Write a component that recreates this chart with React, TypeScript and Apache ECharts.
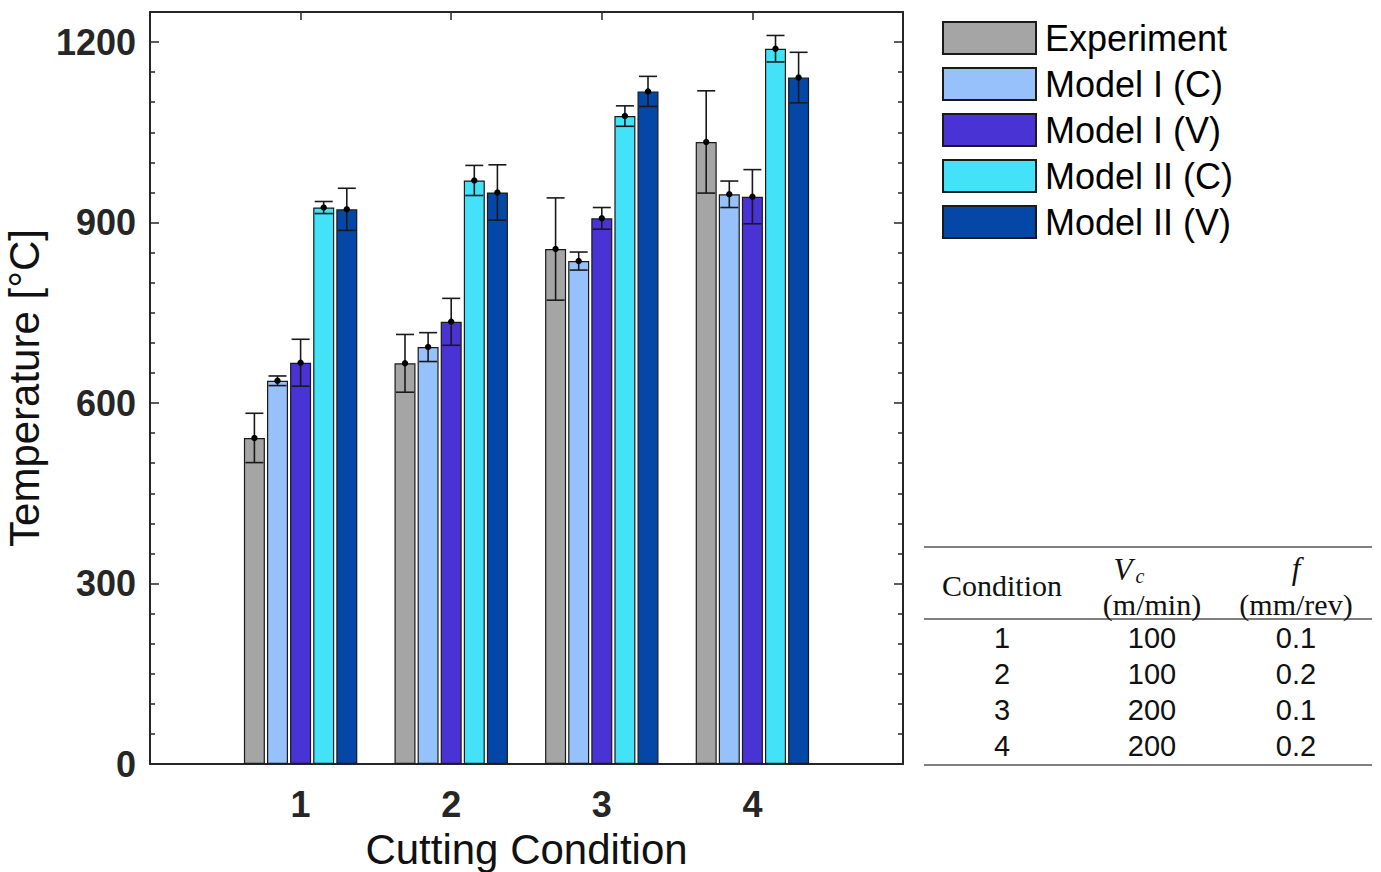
import React, { useEffect, useRef } from "react";
import * as echarts from "echarts";

const categories = ["", "1", "2", "3", "4", ""];
const seriesNames = ["Experiment", "Model I (C)", "Model I (V)", "Model II (C)", "Model II (V)"];
const seriesColors = ["#a5a5a5", "#97c1fb", "#4a33d4", "#44e2f9", "#0547a7"];

const experiment = [542, 666, 856, 1034];
const experimentErr = [41, 48, 85, 85];
const model1C = [637, 693, 836, 947];
const model1CErr = [8, 24, 15, 22];
const model1V = [667, 735, 907, 943];
const model1VErr = [39, 39, 18, 45];
const model2C = [925, 970, 1077, 1189];
const model2CErr = [10, 25, 17, 22];
const model2V = [922, 950, 1118, 1141];
const model2VErr = [35, 46, 25, 42];

const yTicks = [0, 300, 600, 900, 1200];

const tableHeader = ["Condition", "(m/min)", "(mm/rev)"];
const tableConditions = ["1", "2", "3", "4"];
const tableVc = ["100", "100", "200", "200"];
const tableF = ["0.1", "0.2", "0.1", "0.2"];

const values = [experiment, model1C, model1V, model2C, model2V];
const errors = [experimentErr, model1CErr, model1VErr, model2CErr, model2VErr];

const BAR_W = 21;
const GAP_RATIO = 0.1;
const AXIS_COLOR = "#262626";
const SANS = '"Liberation Sans", Arial, sans-serif';
const SERIF = '"Liberation Serif", "Times New Roman", serif';

export default function App() {
  const ref = useRef<HTMLDivElement>(null);
  useEffect(() => {
    if (!ref.current) return;
    const chart = echarts.init(ref.current, undefined, { renderer: "svg" });

    const barSeries = seriesNames.map((name, s) => ({
      name,
      type: "bar",
      barWidth: BAR_W,
      barGap: GAP_RATIO * 100 + "%",
      data: ["-", ...values[s], "-"],
      itemStyle: { color: seriesColors[s], borderColor: "#1a1a1a", borderWidth: 1.2 },
      z: 2,
    }));

    const errData: number[][] = [];
    values.forEach((arr, s) => {
      arr.forEach((v, i) => errData.push([i + 1, s, v, errors[s][i]]));
    });

    const capHalf = 9;
    const errSeries = {
      type: "custom",
      z: 10,
      encode: { x: 0, y: 2 },
      data: errData,
      renderItem: (params: any, api: any) => {
        const cat = api.value(0);
        const s = api.value(1);
        const m = api.value(2);
        const e = api.value(3);
        const p = api.coord([cat, m]);
        const top = api.coord([cat, m + e])[1];
        const bot = api.coord([cat, m - e])[1];
        const x = p[0] + (s - 2) * (BAR_W * (1 + GAP_RATIO));
        const st = { stroke: "#1a1a1a", lineWidth: 1.6 };
        return {
          type: "group",
          children: [
            { type: "line", shape: { x1: x, y1: top, x2: x, y2: bot }, style: st },
            { type: "line", shape: { x1: x - capHalf, y1: top, x2: x + capHalf, y2: top }, style: st },
            { type: "line", shape: { x1: x - capHalf, y1: bot, x2: x + capHalf, y2: bot }, style: st },
            { type: "circle", shape: { cx: x, cy: p[1], r: 3.2 }, style: { fill: "#000" } },
          ],
        };
      },
    };

    // Table graphics
    const tl = { stroke: "#555", lineWidth: 1.5 };
    const txt = (text: string, x: number, y: number, font: string) => ({
      type: "text",
      x,
      y,
      style: { text, font, fill: "#111", align: "center", verticalAlign: "middle" },
    });
    const colX = [1002, 1152, 1296];
    const rowY = [638, 674, 710, 746];
    const graphics: any[] = [
      { type: "line", shape: { x1: 924, y1: 547, x2: 1372, y2: 547 }, style: tl },
      { type: "line", shape: { x1: 924, y1: 619, x2: 1372, y2: 619 }, style: tl },
      { type: "line", shape: { x1: 924, y1: 765, x2: 1372, y2: 765 }, style: tl },
      txt(tableHeader[0], colX[0], 585, `30px ${SERIF}`),
      txt("V", 1123, 569, `italic 31px ${SERIF}`),
      txt("c", 1140, 576, `italic 20px ${SERIF}`),
      txt(tableHeader[1], colX[1], 604, `30px ${SERIF}`),
      txt("f", colX[2], 568, `italic 31px ${SERIF}`),
      txt(tableHeader[2], colX[2], 604, `30px ${SERIF}`),
    ];
    tableConditions.forEach((c, i) => {
      graphics.push(txt(c, colX[0], rowY[i], `29px ${SANS}`));
      graphics.push(txt(tableVc[i], colX[1], rowY[i], `29px ${SANS}`));
      graphics.push(txt(tableF[i], colX[2], rowY[i], `29px ${SANS}`));
    });

    const tickStyle = { color: AXIS_COLOR, width: 1.5 };
    chart.setOption({
      animation: false,
      backgroundColor: "#fff",
      grid: { left: 150, right: 478, top: 12, bottom: 108, containLabel: false, outerBoundsMode: "none" },
      legend: {
        data: seriesNames,
        orient: "vertical",
        left: 942,
        top: 20,
        padding: 0,
        itemWidth: 93,
        itemHeight: 32,
        itemGap: 10,
        selectedMode: false,
        icon: "rect",
        textStyle: { fontSize: 36, fontFamily: SANS, color: "#000", lineHeight: 36, padding: [0, 0, 0, 4] },
      },
      xAxis: [
        {
          type: "category",
          data: categories,
          boundaryGap: false,
          position: "bottom",
          axisLine: { show: true, onZero: false, lineStyle: { color: AXIS_COLOR, width: 2 } },
          axisTick: { show: true, inside: true, length: 8, lineStyle: tickStyle },
          axisLabel: { fontSize: 36, fontWeight: "bold", fontFamily: SANS, color: "#262626", margin: 22 },
          name: "Cutting Condition",
          nameLocation: "middle",
          nameGap: 64,
          nameTextStyle: { fontSize: 42, fontFamily: SANS, color: "#111" },
          splitLine: { show: false },
        },
        {
          type: "category",
          data: categories,
          boundaryGap: false,
          position: "top",
          axisLine: { show: true, onZero: false, lineStyle: { color: AXIS_COLOR, width: 2 } },
          axisTick: { show: true, inside: true, length: 8, lineStyle: tickStyle },
          axisLabel: { show: false },
          splitLine: { show: false },
        },
      ],
      yAxis: [
        {
          type: "value",
          min: 0,
          max: 1250,
          interval: 300,
          position: "left",
          axisLine: { show: true, onZero: false, lineStyle: { color: AXIS_COLOR, width: 2 } },
          axisTick: { show: true, inside: true, length: 9, lineStyle: tickStyle },
          minorTick: { show: true, splitNumber: 6, length: 5, lineStyle: tickStyle },
          axisLabel: {
            fontSize: 36,
            fontWeight: "bold",
            fontFamily: SANS,
            color: "#262626",
            margin: 14,
            showMaxLabel: false,
            formatter: (v: number) => (yTicks.indexOf(v) >= 0 ? String(v) : ""),
          },
          splitLine: { show: false },
          name: "Temperature [°C]",
          nameLocation: "middle",
          nameGap: 99,
          nameTextStyle: { fontSize: 42, fontFamily: SANS, color: "#111" },
        },
        {
          type: "value",
          min: 0,
          max: 1250,
          interval: 300,
          position: "right",
          axisLine: { show: true, onZero: false, lineStyle: { color: AXIS_COLOR, width: 2 } },
          axisTick: { show: true, inside: true, length: 9, lineStyle: tickStyle },
          minorTick: { show: true, splitNumber: 6, length: 5, lineStyle: tickStyle },
          axisLabel: { show: false },
          splitLine: { show: false },
        },
      ],
      series: [...barSeries, errSeries],
      graphic: graphics,
    });
    return () => chart.dispose();
  }, []);
  return <div ref={ref} style={{ position: "fixed", left: 0, top: 0, width: 1381, height: 872 }} />;
}
